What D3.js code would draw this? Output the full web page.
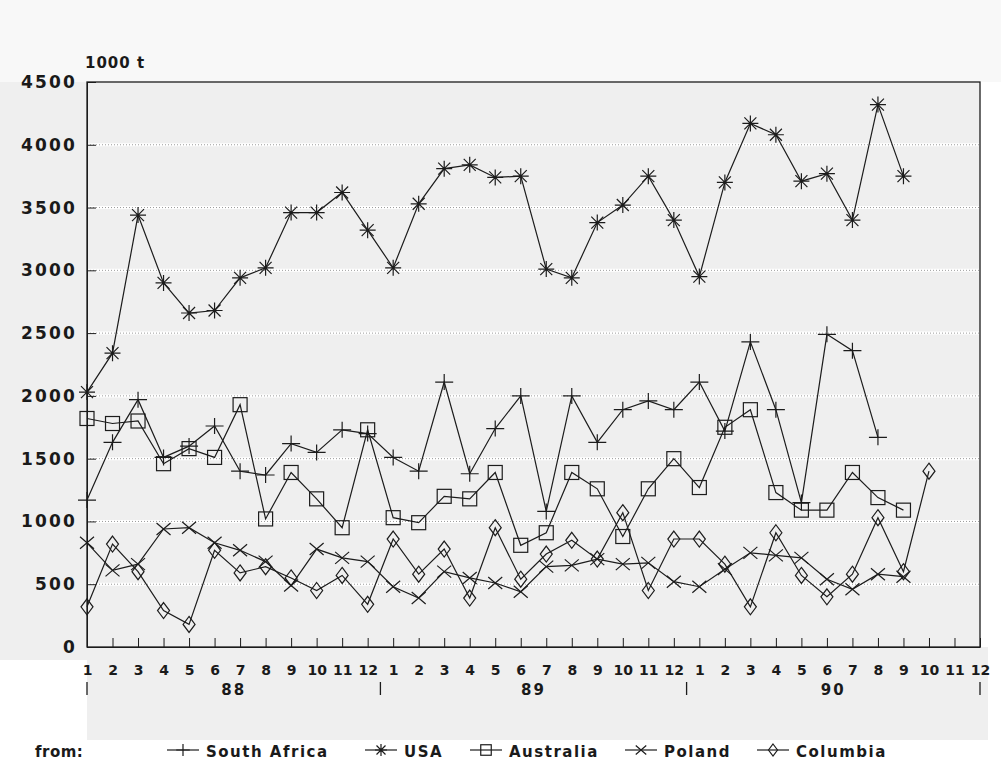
<!DOCTYPE html>
<html><head><meta charset="utf-8">
<script src="https://cdn.jsdelivr.net/npm/d3@7"></script>
<style>
html,body{margin:0;padding:0;background:#fff;}
svg{display:block;}
text{font-family:"DejaVu Sans",sans-serif;font-weight:bold;fill:#1a1a1a;}
</style></head>
<body>
<svg id="c" width="1001" height="765"></svg>
<script>
// ---- data ----
const months = ["1","2","3","4","5","6","7","8","9","10","11","12"];
const years = ["88","89","90"];
const yTicks = [0,500,1000,1500,2000,2500,3000,3500,4000,4500];
const unitLabel = "1000 t";
const southAfrica = [1170,1630,1970,1510,1600,1760,1400,1370,1620,1550,1730,1700,
                     1510,1400,2110,1380,1740,2000,1080,2000,1630,1890,1960,1890,
                     2110,1720,2430,1890,1150,2490,2360,1670,null,null,null,null];
const usa = [2030,2340,3440,2900,2660,2680,2940,3020,3460,3460,3620,3320,
             3020,3530,3810,3840,3740,3750,3010,2940,3380,3520,3750,3400,
             2950,3700,4170,4080,3710,3770,3400,4320,3750,null,null,null];
const australia = [1820,1780,1800,1460,1580,1510,1930,1020,1390,1180,950,1730,
                   1030,990,1200,1180,1390,810,910,1390,1260,880,1260,1500,
                   1270,1750,1890,1230,1090,1090,1390,1190,1090,null,null,null];
const poland = [830,610,660,940,950,830,770,680,490,780,710,680,
                480,390,600,550,510,440,640,650,700,660,670,520,
                480,620,750,730,710,540,460,580,560,null,null,null];
const columbia = [320,820,600,290,180,770,590,640,550,450,570,340,
                  860,580,780,390,950,540,740,850,700,1070,450,860,
                  860,660,320,910,570,400,580,1030,600,1400,null,null];
const seriesNames = ["South Africa","USA","Australia","Poland","Columbia"];
const seriesValues = [southAfrica, usa, australia, poland, columbia];
const seriesMarkers = ["plus","star","square","cross","diamond"];

// ---- layout ----
const svg = d3.select("#c");
const L = 87, R = 980, T = 82, B = 647;
const nPts = months.length * years.length;
const x = d3.scaleLinear().domain([0, nPts - 1]).range([L, R]);
const y = d3.scaleLinear().domain([0, 4500]).range([B, T]);
const ink = "#1c1c1c";

// backgrounds (scanned look)
svg.append("rect").attr("x",0).attr("y",0).attr("width",1001).attr("height",T).attr("fill","#f8f8f8");
svg.append("rect").attr("x",0).attr("y",T).attr("width",L).attr("height",578).attr("fill","#efefef");
svg.append("rect").attr("x",L).attr("y",B).attr("width",R - L + 8).attr("height",93).attr("fill","#efefef");
svg.append("rect").attr("x",L).attr("y",T).attr("width",R-L).attr("height",B-T).attr("fill","#efefef");

// grid
const grid = svg.append("g");
yTicks.filter(v => v > 0 && v < 4500).forEach(v => {
  grid.append("line").attr("x1",L).attr("x2",R).attr("y1",y(v)).attr("y2",y(v))
    .attr("stroke","#fff").attr("stroke-width",3);
  grid.append("line").attr("x1",L).attr("x2",R).attr("y1",y(v)).attr("y2",y(v))
    .attr("stroke","#9a9a9a").attr("stroke-width",1).attr("stroke-dasharray","1,2");
});

// axes
const yAxis = d3.axisLeft(y).tickValues(yTicks).tickSizeInner(-9).tickSizeOuter(0).tickPadding(10)
  .tickFormat(d3.format("d"));
const gy = svg.append("g").attr("transform",`translate(${L},0)`).call(yAxis);
gy.selectAll("text").attr("font-size",17).attr("letter-spacing","2.2px").attr("font-family","DejaVu Sans").attr("font-weight","bold").attr("fill",ink);

const xLabels = d3.range(nPts).map(i => months[i % 12]);
const xAxis = d3.axisBottom(x).tickValues(d3.range(nPts)).tickSizeInner(-9).tickSizeOuter(0).tickPadding(18)
  .tickFormat(i => xLabels[i]);
const gx = svg.append("g").attr("transform",`translate(0,${B})`).call(xAxis);
gx.selectAll("text").attr("font-size",14).attr("font-family","DejaVu Sans").attr("font-weight","bold").attr("fill",ink);
[gx, gy].forEach(g => { g.selectAll("line").attr("stroke",ink); g.select(".domain").attr("stroke",ink); });

// frame
svg.append("rect").attr("x",L).attr("y",T).attr("width",R-L).attr("height",B-T)
  .attr("fill","none").attr("stroke",ink).attr("stroke-width",1.3);

// year labels & separators
const sepIdx = [0, 11.5, 23.5, 35];
sepIdx.forEach(s => svg.append("line").attr("x1",x(s)).attr("x2",x(s)).attr("y1",682).attr("y2",695)
  .attr("stroke",ink).attr("stroke-width",1.3));
years.forEach((yr,i) => {
  svg.append("text").attr("x",(x(sepIdx[i])+x(sepIdx[i+1]))/2).attr("y",695)
    .attr("text-anchor","middle").attr("font-size",15).attr("letter-spacing","2px").text(yr);
});
svg.append("text").attr("x",L-2).attr("y",68).attr("font-size",15).attr("letter-spacing","1px").text(unitLabel);

// markers
function marker(g, type, cx, cy, s) {
  s = s || 1;
  const p = (a) => a * s;
  if (type === "plus") {
    g.append("path").attr("d",`M${cx-p(9)},${cy}H${cx+p(9)}M${cx},${cy-p(8)}V${cy+p(8)}`);
  } else if (type === "star") {
    g.append("path").attr("d",`M${cx-p(8)},${cy}H${cx+p(8)}M${cx},${cy-p(8)}V${cy+p(8)}M${cx-p(6)},${cy-p(6)}L${cx+p(6)},${cy+p(6)}M${cx-p(6)},${cy+p(6)}L${cx+p(6)},${cy-p(6)}`);
  } else if (type === "square") {
    g.append("rect").attr("x",cx-p(7)).attr("y",cy-p(7)).attr("width",p(14)).attr("height",p(14)).attr("fill","none");
  } else if (type === "cross") {
    g.append("path").attr("d",`M${cx-p(7)},${cy-p(6)}L${cx+p(7)},${cy+p(6)}M${cx-p(7)},${cy+p(6)}L${cx+p(7)},${cy-p(6)}`);
  } else if (type === "diamond") {
    g.append("path").attr("d",`M${cx},${cy-p(8)}L${cx+p(6)},${cy}L${cx},${cy+p(8)}L${cx-p(6)},${cy}Z`).attr("fill","none");
  }
}

const line = d3.line().defined(d => d != null).x((d,i) => x(i)).y(d => y(d));
seriesValues.forEach((vals, k) => {
  const g = svg.append("g").attr("stroke",ink).attr("stroke-width",1.2).attr("fill","none");
  g.append("path").attr("d", line(vals));
  vals.forEach((v,i) => { if (v != null) marker(g, seriesMarkers[k], x(i), y(v)); });
});

// legend
svg.append("text").attr("x",35).attr("y",757).attr("font-size",15).attr("letter-spacing","0.5px").text("from:");
const legX = [167, 365, 470, 625, 757];
seriesNames.forEach((n,k) => {
  const g = svg.append("g").attr("stroke",ink).attr("stroke-width",1.2).attr("fill","none");
  const lx = legX[k];
  g.append("line").attr("x1",lx).attr("x2",lx+32).attr("y1",750).attr("y2",750);
  marker(g, seriesMarkers[k], lx+16, 750, 0.75);
  svg.append("text").attr("x",lx+39).attr("y",757).attr("font-size",15).attr("letter-spacing","1.5px").text(n);
});
</script>
</body></html>
